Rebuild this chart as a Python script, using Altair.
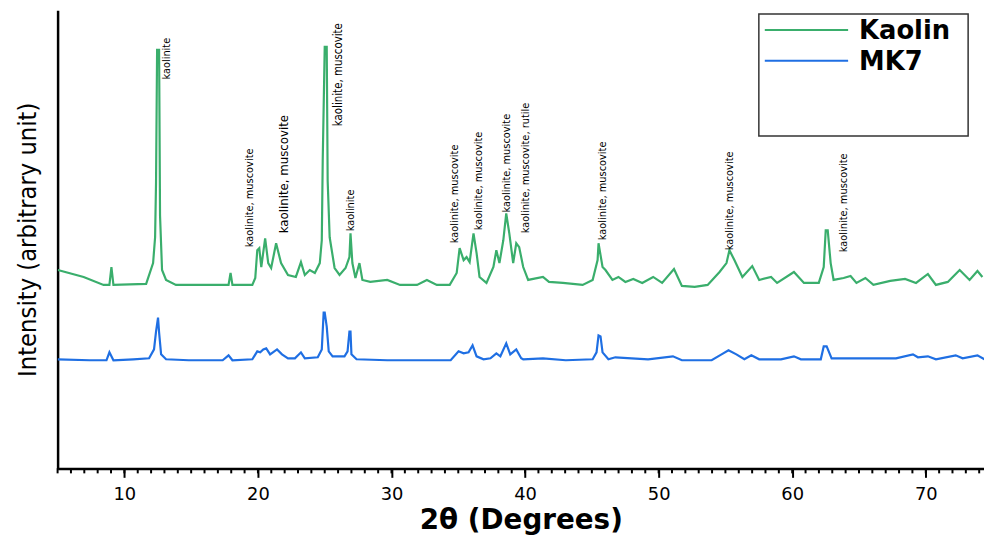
import altair as alt
import pandas as pd

# Kaolin (green) pattern: 2theta (deg) and intensity (arbitrary unit)
kaolin_x = [5.02, 6.95, 8.44, 8.88, 9.03, 9.18, 11.63, 12.15, 12.30, 12.37, 12.45, 12.60, 12.67, 12.82,
            13.12, 13.86, 17.80, 17.95, 18.09, 19.58, 19.80, 19.95, 20.10, 20.25, 20.54, 20.77, 20.99,
            21.36, 21.73, 22.25, 22.84, 23.22, 23.51, 23.88, 24.26, 24.63, 24.78, 24.85, 25.00, 25.15,
            25.22, 25.37, 25.74, 26.11, 26.56, 26.85, 26.93, 27.07, 27.30, 27.60, 27.82, 28.41, 29.68,
            30.64, 31.91, 32.65, 33.39, 34.36, 34.88, 35.10, 35.40, 35.62, 35.85, 36.14, 36.37, 36.59,
            37.11, 37.63, 37.85, 38.08, 38.37, 38.59, 38.82, 39.11, 39.34, 39.56, 39.86, 40.23, 41.34,
            41.79, 42.83, 44.31, 45.06, 45.43, 45.50, 45.80, 46.02, 46.54, 46.99, 47.51, 48.10, 48.77,
            49.59, 50.26, 51.15, 51.74, 52.70, 53.67, 54.56, 55.08, 55.30, 55.67, 56.27, 57.01, 57.53,
            58.42, 58.87, 60.13, 60.88, 61.99, 62.36, 62.51, 62.66, 62.88, 63.10, 63.85, 64.37, 64.81,
            65.48, 66.08, 67.34, 68.45, 69.27, 70.16, 70.76, 71.65, 72.54, 73.28, 73.87, 74.24]
kaolin_y = [200, 193, 185, 185, 203, 185, 186, 207, 233, 288, 422, 422, 255, 200,
            190, 185, 185, 197, 185, 185, 192, 220, 222, 203, 232, 207, 202,
            227, 207, 195, 193, 208, 195, 200, 197, 207, 230, 310, 425, 425,
            290, 233, 202, 195, 202, 213, 237, 207, 192, 207, 190, 188, 190,
            185, 185, 190, 185, 185, 197, 222, 210, 213, 208, 237, 217, 193,
            187, 203, 220, 207, 230, 257, 237, 207, 227, 223, 203, 190, 193,
            188, 187, 185, 190, 210, 227, 203, 200, 190, 193, 188, 191, 187,
            193, 187, 201, 184, 183, 185, 198, 207, 220, 210, 193, 204, 190,
            193, 187, 198, 187, 187, 203, 240, 240, 207, 190, 192, 194, 187,
            192, 185, 189, 191, 187, 196, 185, 188, 200, 190, 199, 193]

# MK7 (blue) pattern
mk7_x = [5.00, 7.40, 8.66, 8.88, 9.18, 10.67, 11.85, 12.22, 12.37, 12.52, 12.60, 12.75, 13.12, 14.82,
         17.36, 17.80, 18.09, 19.58, 19.95, 20.17, 20.40, 20.62, 20.91, 21.43, 21.80, 22.25, 22.77,
         23.22, 23.51, 24.48, 24.78, 24.92, 25.00, 25.15, 25.30, 25.59, 26.48, 26.71, 26.85, 26.93,
         27.00, 27.38, 29.68, 32.20, 34.43, 35.02, 35.40, 35.77, 36.07, 36.37, 36.89, 37.41, 37.85,
         38.15, 38.59, 38.89, 39.34, 39.71, 39.86, 41.34, 43.05, 45.06, 45.35, 45.50, 45.65, 45.80,
         46.24, 46.76, 49.21, 51.07, 51.74, 53.97, 54.71, 55.23, 55.82, 56.42, 56.94, 57.53, 59.16,
         60.13, 60.65, 62.14, 62.36, 62.58, 62.95, 65.32, 67.77, 69.04, 69.41, 70.16, 70.76, 72.24,
         72.76, 73.87, 74.39]
mk7_y = [110, 109, 109, 117, 109, 110, 111, 120, 138, 152, 137, 115, 110, 109,
         109, 114, 109, 110, 118, 117, 120, 121, 115, 120, 115, 111, 111,
         117, 111, 112, 120, 157, 157, 143, 118, 113, 113, 118, 138, 138,
         115, 110, 109, 109, 109, 118, 116, 117, 124, 113, 110, 111, 116,
         113, 126, 115, 120, 111, 110, 111, 109, 110, 117, 134, 133, 117,
         110, 112, 110, 113, 109, 109, 115, 119, 115, 110, 114, 110, 110,
         113, 110, 110, 123, 123, 111, 111, 111, 115, 112, 113, 110, 114,
         111, 114, 110]

series_names = ["Kaolin", "MK7"]
series_colors = ["#3aae6c", "#1f6fe3"]

# Peak annotations
ann_x = [13.19, 19.43, 21.96, 26.05, 27.00, 34.73, 36.52, 38.67, 40.08, 45.86, 55.37, 63.91]
ann_y = [392, 223, 237, 345, 239, 227, 240, 258, 237, 230, 220, 218]
ann_text = ["kaolinite", "kaolinite, muscovite", "kaolinite, muscovite", "kaolinite, muscovite",
            "kaolinite", "kaolinite, muscovite", "kaolinite, muscovite", "kaolinite, muscovite",
            "kaolinite, muscovite, rutile", "kaolinite, muscovite", "kaolinite, muscovite",
            "kaolinite, muscovite"]
ann_size = [11, 11, 13.2, 11.5, 11, 11, 11, 11, 11, 11, 11, 11]

major_ticks = [10, 20, 30, 40, 50, 60, 70]
minor_ticks = list(range(5, 75))

X_MIN, X_MAX = 5, 74.36
Y_MIN, Y_MAX = 0, 462
PLOT_H = 462
NARROW = "DejaVu Sans Condensed, Roboto, sans-serif"

rows = []
for i, (x, y) in enumerate(zip(kaolin_x, kaolin_y)):
    rows.append({"deg": x, "inten": y, "series": "Kaolin", "idx": i})
for i, (x, y) in enumerate(zip(mk7_x, mk7_y)):
    rows.append({"deg": x, "inten": y, "series": "MK7", "idx": i})
df = pd.DataFrame(rows)

ann = pd.DataFrame({"deg": ann_x, "inten": ann_y, "label": ann_text, "size": ann_size})
ticks_df = pd.DataFrame({"deg": minor_ticks})

xscale = alt.Scale(domain=[X_MIN, X_MAX], nice=False, zero=False)
yscale = alt.Scale(domain=[Y_MIN, Y_MAX], nice=False, zero=False)

lines = alt.Chart(df).mark_line(strokeWidth=2.2, clip=True, interpolate="linear").encode(
    x=alt.X("deg:Q", scale=xscale,
            axis=alt.Axis(title="2θ (Degrees)", values=major_ticks,
                          tickSize=9, tickWidth=2, tickColor="black",
                          domainColor="black", domainWidth=2.5,
                          labelFont="DejaVu Sans", labelFontSize=18, labelColor="black",
                          labelPadding=8, labelFlush=False, labelOverlap=False,
                          titleFont="DejaVu Sans", titleFontSize=28, titleFontWeight="bold",
                          titleColor="black", titlePadding=4, grid=False)),
    y=alt.Y("inten:Q", scale=yscale,
            axis=alt.Axis(title="Intensity (arbitrary unit)", labels=False, ticks=False,
                          domainColor="black", domainWidth=2.5, grid=False,
                          titleFont=NARROW, titleFontSize=25.5,
                          titleFontWeight="normal", titleColor="black", titlePadding=17)),
    color=alt.Color("series:N", scale=alt.Scale(domain=series_names, range=series_colors), legend=None),
    detail="series:N",
    order="idx:Q",
)

minor = alt.Chart(ticks_df).mark_rule(color="black", strokeWidth=2).encode(
    x=alt.X("deg:Q", scale=xscale),
    y=alt.value(PLOT_H),
    y2=alt.value(PLOT_H + 5),
)

labels = alt.Chart(ann).mark_text(angle=270, align="left", baseline="middle",
                                  font=NARROW, color="black").encode(
    x=alt.X("deg:Q", scale=xscale),
    y=alt.Y("inten:Q", scale=yscale),
    text="label:N",
    size=alt.Size("size:Q", scale=None, legend=None),
)

leg_box = alt.Chart(pd.DataFrame({"a": [0]})).mark_rect(fill="white", stroke="#333333", strokeWidth=1.5).encode(
    x=alt.value(707), x2=alt.value(918), y=alt.value(4), y2=alt.value(127))

leg_items = []
for name, color, ly in zip(series_names, series_colors, [20, 51]):
    leg_items.append(alt.Chart(pd.DataFrame({"s": [name]})).mark_rule(color=color, strokeWidth=2).encode(
        x=alt.value(713), x2=alt.value(797), y=alt.value(ly)))
    leg_items.append(alt.Chart(pd.DataFrame({"s": [name]})).mark_text(
        align="left", baseline="middle", font="DejaVu Sans", fontWeight="bold", fontSize=26,
        color="black").encode(x=alt.value(808), y=alt.value(ly + 1), text="s:N"))

chart = alt.layer(lines, minor, labels, leg_box, *leg_items).properties(
    width=934, height=462,
    padding={"left": 50, "top": 0, "right": 0, "bottom": 67},
    autosize=alt.AutoSizeParams(type="none"),
    background="white",
).configure_view(stroke=None)

chart.save("out.html", embed_options={"renderer": "svg", "actions": False})
